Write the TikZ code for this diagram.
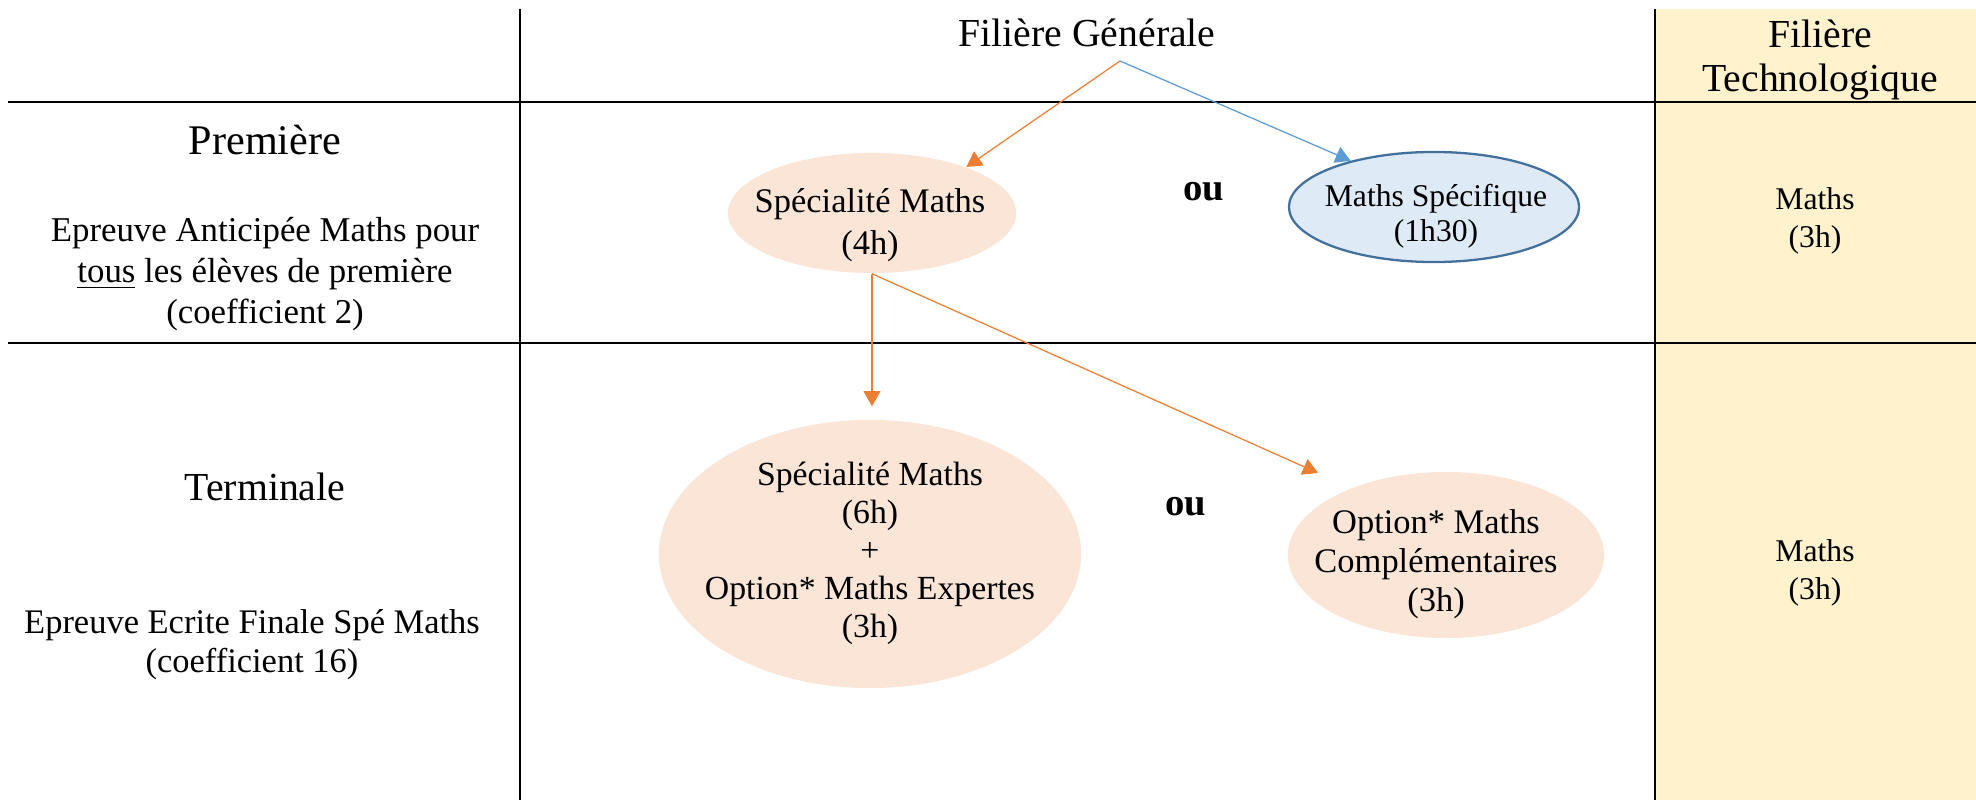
\documentclass[tikz,border=0pt]{standalone}
\usepackage{fontspec}
\setmainfont{Liberation Serif}
\usetikzlibrary{shapes.geometric,arrows.meta}
\definecolor{peche}{HTML}{FBE5D6}
\definecolor{bleuclair}{HTML}{DEEBF7}
\definecolor{bleubord}{HTML}{41719C}
\definecolor{bleufl}{HTML}{5B9BD5}
\definecolor{orangefl}{HTML}{ED7D31}
\definecolor{jaune}{HTML}{FFF2CC}

\begin{document}
\begin{tikzpicture}[x=0.01cm,y=-0.01cm,
    bulle/.style={ellipse,fill=peche,inner sep=0pt},
    texte/.style={align=center,inner sep=0pt,font=\fontsize{9.8}{11.4}\selectfont},
    titre/.style={align=center,inner sep=0pt,font=\fontsize{11.3}{12.3}\selectfont},
    fleche/.style={-{Triangle[length=4.3pt,width=4.8pt]},line width=0.35pt},
    trait/.style={line width=0.55pt}]
    \useasboundingbox (0,0) rectangle (1976,800);
    \fill[jaune] (1655,9) rectangle (1976,800);
    \draw[trait] (520,9) -- (520,800);
    \draw[trait] (1655,9) -- (1655,800);
    \draw[trait] (8,102) -- (1655,102);
    \draw[line width=0.3pt] (1655,102) -- (1976,102);
    \draw[trait] (8,343) -- (1976,343);

    \node[titre] (gen) at (1087,33) {Filière Générale};
    \node[titre] (techno) at (1820,60) {Filière\\Technologique};
    \node[titre,font=\fontsize{12}{13}\selectfont] (prem) at (265,140) {Première};
    \node[texte,font=\fontsize{9.9}{11.7}\selectfont] (eap) at (265,274)
      {Epreuve Anticipée Maths pour\\\underline{tous} les élèves de première\\(coefficient 2)};
    \node[titre] (term) at (265,487) {Terminale};
    \node[texte,font=\fontsize{9.8}{11.1}\selectfont] (eef) at (252,645)
      {Epreuve Ecrite Finale Spé Maths\\(coefficient 16)};
    \node[texte,font=\fontsize{9}{10.8}\selectfont] (mt1) at (1815,221) {Maths\\(3h)};
    \node[texte,font=\fontsize{9}{10.8}\selectfont] (mt2) at (1815,573) {Maths\\(3h)};
    \node[titre,font=\bfseries\fontsize{11}{12}\selectfont] (ou1) at (1204,192) {ou};
    \node[titre,font=\bfseries\fontsize{11}{12}\selectfont] (ou2) at (1186,507) {ou};

    \node[bulle,minimum width=2.88cm,minimum height=1.20cm] (spe4) at (872,213) {};
    \node[texte,font=\fontsize{9.8}{11.8}\selectfont] (spe4t) at (870,225) {Spécialité Maths\\(4h)};
    \node[bulle,fill=bleuclair,draw=bleubord,line width=0.65pt,
      minimum width=2.90cm,minimum height=1.10cm] (spec) at (1434,207) {};
    \node[texte,font=\fontsize{9}{10}\selectfont] (spect) at (1436,216) {Maths Spécifique\\(1h30)};
    \node[bulle,minimum width=4.22cm,minimum height=2.68cm] (spe6) at (870,554) {};
    \node[texte,font=\fontsize{9.6}{10.8}\selectfont] (spe6t) at (870,553)
      {Spécialité Maths\\(6h)\\+\\Option* Maths Expertes\\(3h)};
    \node[bulle,minimum width=3.16cm,minimum height=1.66cm] (compl) at (1446,555) {};
    \node[texte,font=\fontsize{9.8}{11.1}\selectfont] (complt) at (1436,564)
      {Option* Maths\\Complémentaires\\(3h)};

    \coordinate (depart) at (1120,61);
    \coordinate (pointe) at (1318,473);
    \draw[fleche,orangefl] (depart) -- (spe4.26);
    \draw[fleche,bleufl] (depart) -- (spec.151);
    \draw[fleche,orangefl,shorten >=0.13cm] (spe4.south) -- (spe4.south |- spe6.north);
    \draw[fleche,orangefl] (spe4.south) -- (pointe);
  \end{tikzpicture}
\end{document}
